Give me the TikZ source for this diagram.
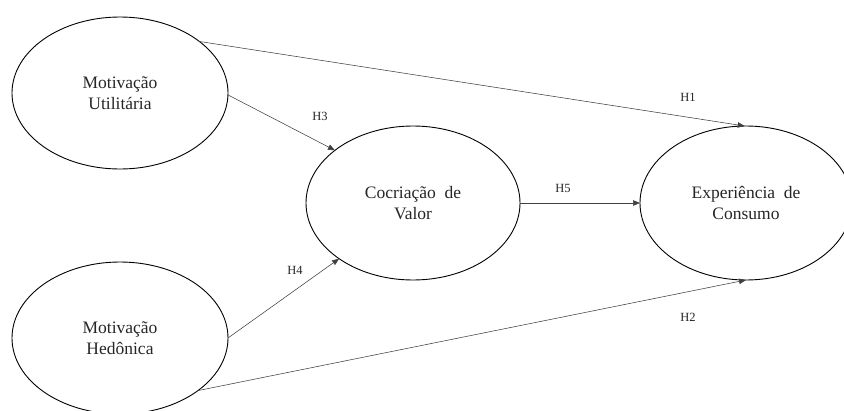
\documentclass[tikz,border=0pt]{standalone}
\usepackage{fontspec}
\setmainfont{Liberation Serif}
\usetikzlibrary{arrows.meta,shapes.geometric}
\tikzset{
  construct/.style={ellipse, draw=black, line width=0.9pt, inner sep=0pt, outer sep=0pt,
    align=center, font=\fontsize{17.5}{21.5}\selectfont, text=black!85},
  path/.style={draw=black!75, line width=0.55pt, -{Triangle[length=7pt,width=5.5pt]}},
  hyp/.style={font=\fontsize{12.5}{15}\selectfont, text=black!85},
}
\begin{document}
\begin{tikzpicture}[x=1pt,y=-1pt]
\useasboundingbox (0,0) rectangle (844,410);
\clip (0,0) rectangle (844,410);
\node[construct, minimum width=216pt, minimum height=152pt] (mu) at (120,93) {Motivação\\Utilitária};
\node[construct, minimum width=216pt, minimum height=152pt] (mh) at (120,338) {Motivação\\Hedônica};
\node[construct, minimum width=214pt, minimum height=154pt] (cv) at (413,203) {Cocriação\enspace de\\Valor};
\node[construct, minimum width=212pt, minimum height=154pt] (ec) at (746,203) {Experiência\enspace de\\Consumo};
\draw[path] (mu.33.5) -- (ec.91);
\draw[path] (mu.-1) -- (cv.146);
\draw[path] (mh.0.5) -- (cv.-143.6);
\draw[path] (mh.-34.5) -- (ec.-90.7);
\draw[path] (cv.0) -- (ec.180);
\node[hyp] (h1) at (688,97) {H1};
\node[hyp] (h3) at (320,116) {H3};
\node[hyp] (h4) at (295,270) {H4};
\node[hyp] (h2) at (688,317) {H2};
\node[hyp] (h5) at (563,188) {H5};
\end{tikzpicture}
\end{document}
